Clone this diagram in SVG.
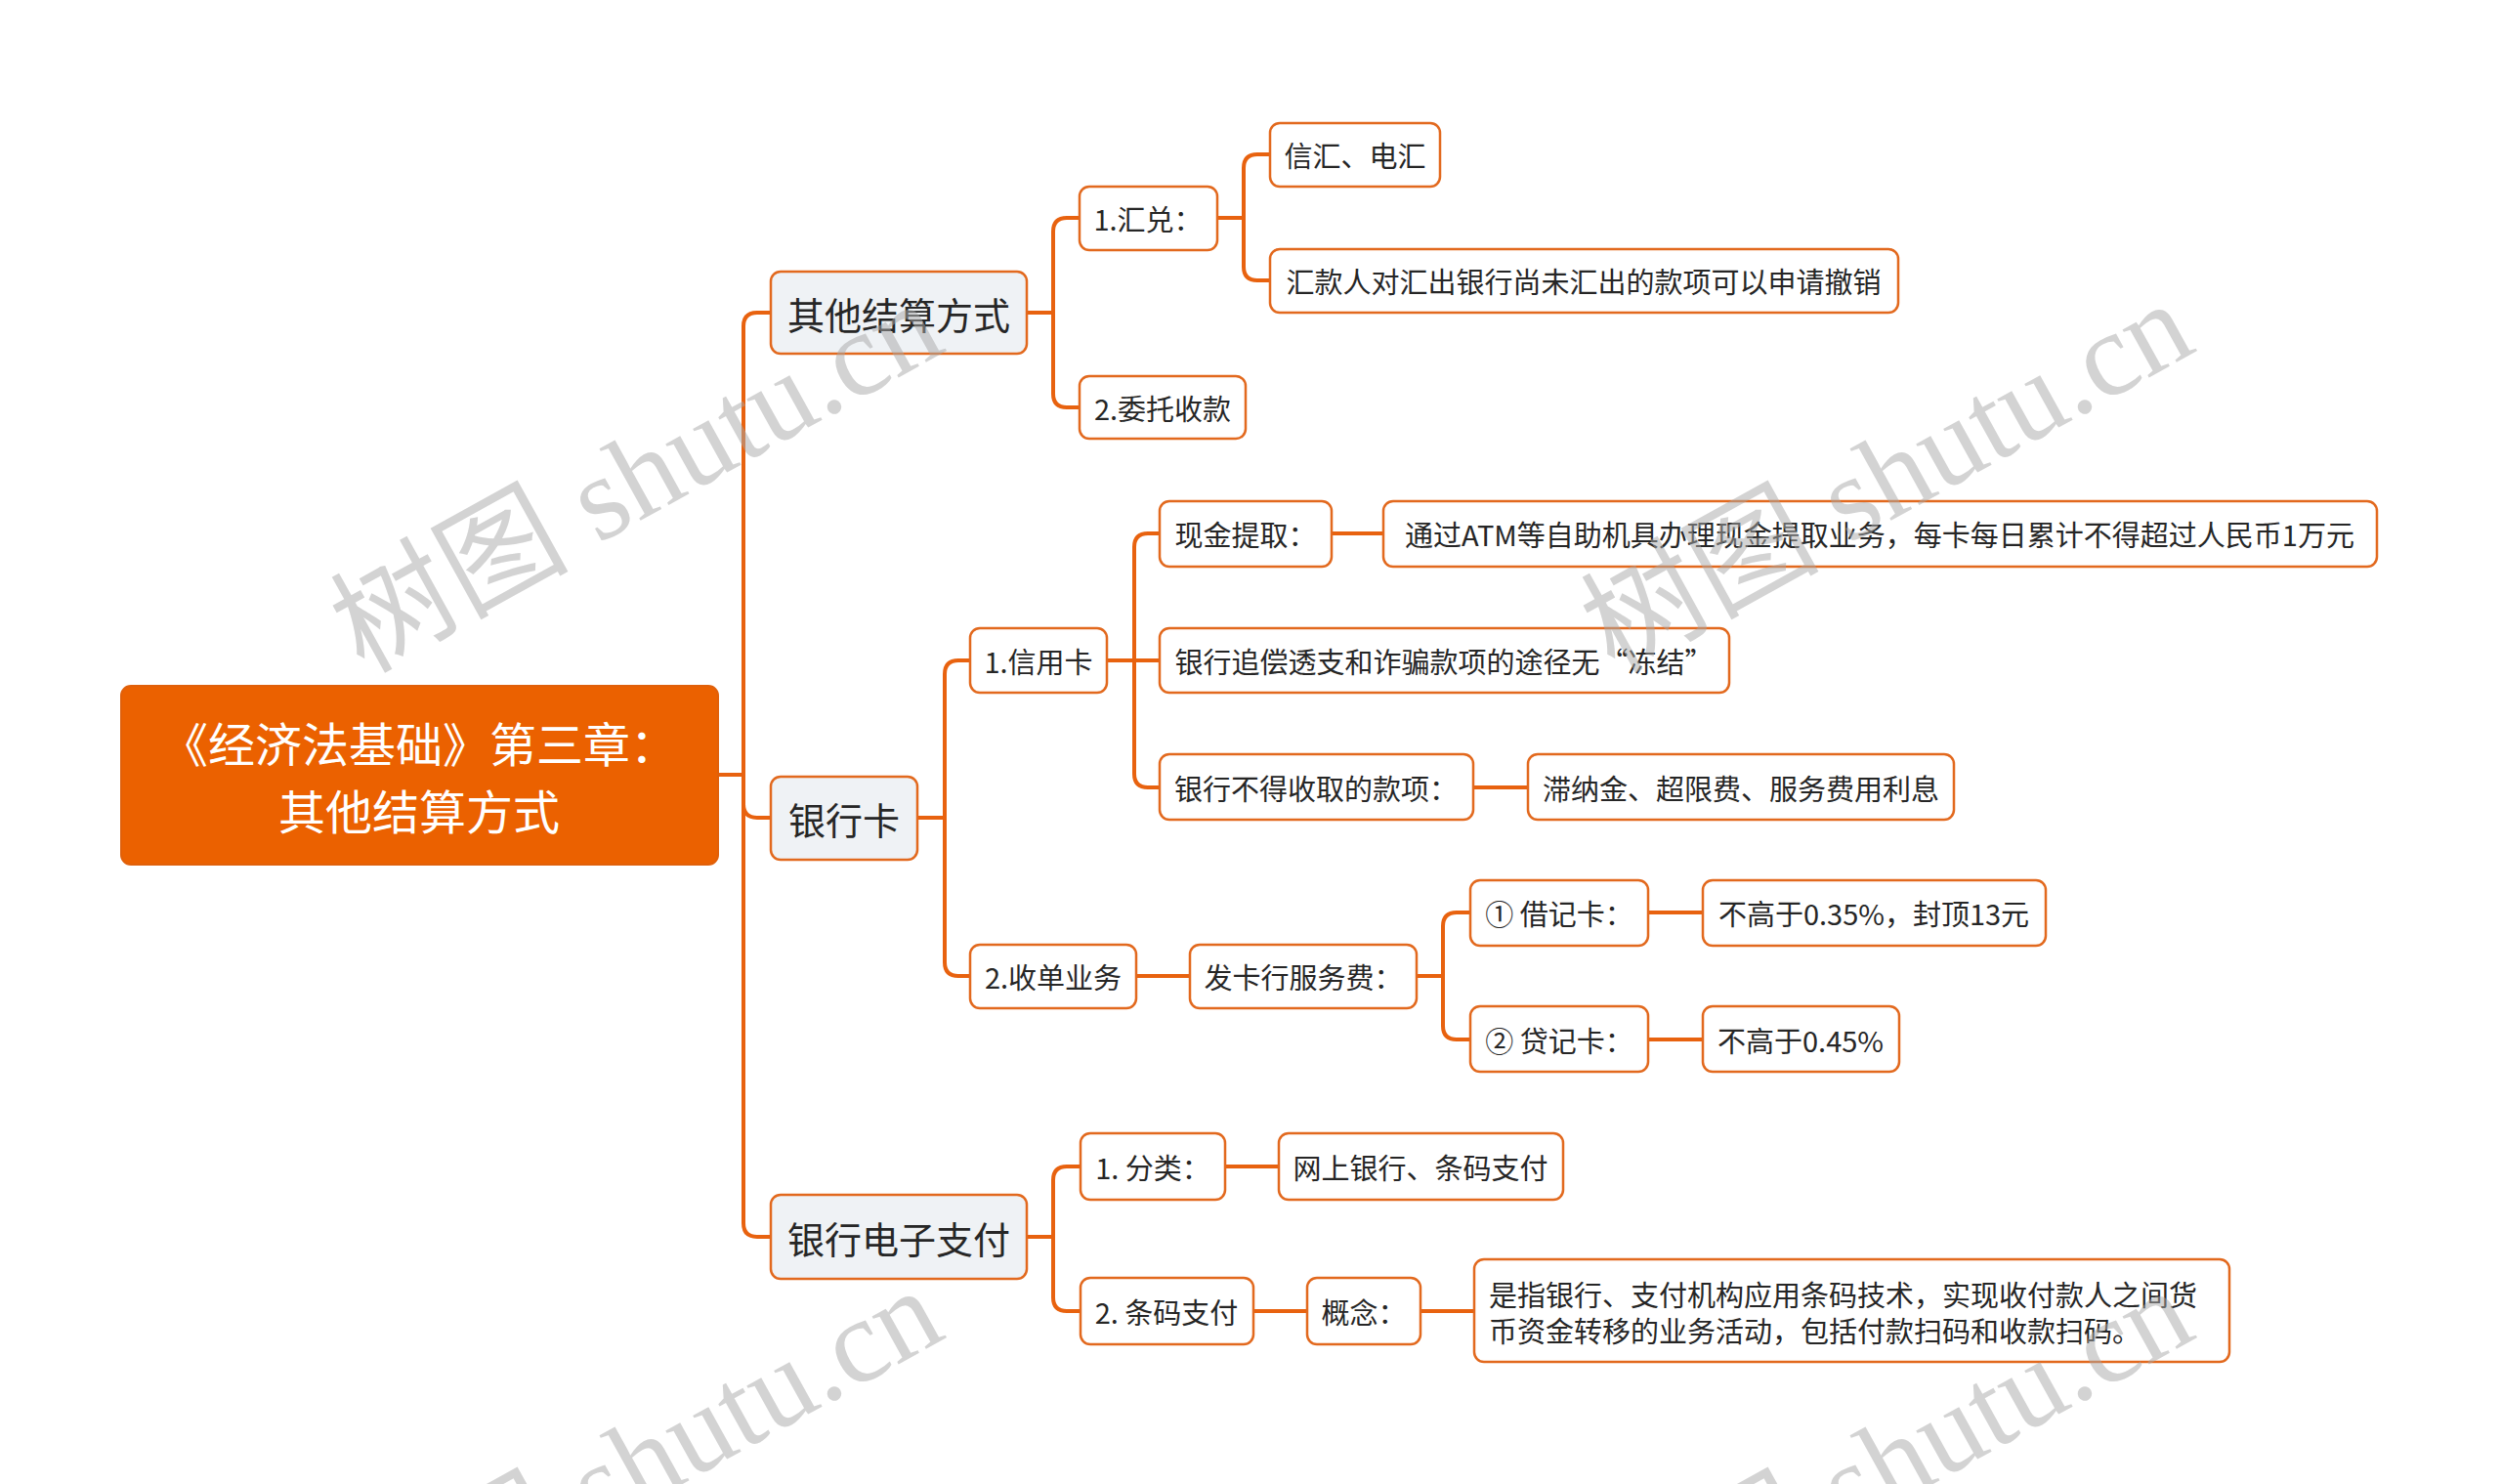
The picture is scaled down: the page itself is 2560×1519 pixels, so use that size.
<svg xmlns="http://www.w3.org/2000/svg" width="2560" height="1519" viewBox="0 0 2560 1519">
<style>
.n rect{fill:#ffffff;stroke:#E2691E;stroke-width:2.5}
.g rect{fill:#EFF2F5}
.n text{font-family:"Noto Sans CJK SC","Noto Sans",sans-serif;font-size:29px;fill:#262626;text-anchor:middle;dominant-baseline:central}
.g text{font-size:38px}
.root rect{fill:#EB6100;stroke:#E0600A;stroke-width:2}
.root text{font-family:"Noto Sans CJK SC","Noto Sans",sans-serif;font-size:48px;fill:#ffffff;text-anchor:middle;dominant-baseline:central}
#connectors path{fill:none;stroke:#E8620F;stroke-width:4;stroke-linecap:round;stroke-linejoin:round}
.wm{font-family:"Liberation Serif","Noto Sans CJK SC",serif;font-size:122px;fill:#a8a8a8;opacity:0.5}
</style>
<rect width="2560" height="1519" fill="#ffffff"/>
<g id="connectors">
<path d="M735 793 H761 M761 793 V334 Q761 320 775 320 H789 M761 793 V1252 Q761 1266 775 1266 H789 M761 793 V823 Q761 837 775 837 H789"/>
<path d="M1051 320 H1078 V237 Q1078 223 1092 223 H1105 M1078 320 V403 Q1078 417 1092 417 H1105"/>
<path d="M1246 223 H1273 V172 Q1273 158 1287 158 H1300 M1273 223 V273 Q1273 287 1287 287 H1300"/>
<path d="M939 837 H967 V690 Q967 676 981 676 H993 M967 837 V985 Q967 999 981 999 H993"/>
<path d="M1133 676 H1187 M1161 676 V560 Q1161 546 1175 546 H1187 M1161 676 V792 Q1161 806 1175 806 H1187"/>
<path d="M1363 546 H1416"/>
<path d="M1508 806 H1564"/>
<path d="M1163 999 H1218"/>
<path d="M1450 999 H1477 V948 Q1477 934 1491 934 H1505 M1477 999 V1050 Q1477 1064 1491 1064 H1505"/>
<path d="M1687 934 H1743"/>
<path d="M1687 1064 H1743"/>
<path d="M1051 1266 H1078 V1208 Q1078 1194 1092 1194 H1106 M1078 1266 V1328 Q1078 1342 1092 1342 H1106"/>
<path d="M1254 1194 H1309"/>
<path d="M1283 1342 H1338"/>
<path d="M1454 1342 H1509"/>
</g>
<g id="root" class="root">
<rect x="124" y="702" width="611" height="183" rx="10"/>
<text x="429" y="759">《经济法基础》第三章：</text>
<text x="429" y="828">其他结算方式</text>
</g>
<g id="n-qita" class="n g"><rect x="789" y="278" width="262" height="84" rx="10"/><text x="920" y="320">其他结算方式</text></g>
<g id="n-yhk" class="n g"><rect x="789" y="795" width="150" height="85" rx="10"/><text x="864" y="837">银行卡</text></g>
<g id="n-dzzf" class="n g"><rect x="789" y="1223" width="262" height="86" rx="10"/><text x="920" y="1266">银行电子支付</text></g>
<g id="n-hd" class="n"><rect x="1105" y="191" width="141" height="65" rx="10"/><text x="1175" y="223">1.汇兑：</text></g>
<g id="n-wt" class="n"><rect x="1105" y="385" width="170" height="64" rx="10"/><text x="1190" y="417">2.委托收款</text></g>
<g id="n-xh" class="n"><rect x="1300" y="126" width="174" height="65" rx="10"/><text x="1387" y="158">信汇、电汇</text></g>
<g id="n-hkr" class="n"><rect x="1300" y="255" width="643" height="65" rx="10"/><text x="1621" y="287">汇款人对汇出银行尚未汇出的款项可以申请撤销</text></g>
<g id="n-xyk" class="n"><rect x="993" y="643" width="140" height="66" rx="10"/><text x="1063" y="676">1.信用卡</text></g>
<g id="n-sd" class="n"><rect x="993" y="967" width="170" height="65" rx="10"/><text x="1078" y="999">2.收单业务</text></g>
<g id="n-xjtq" class="n"><rect x="1187" y="513" width="176" height="67" rx="10"/><text x="1275" y="546">现金提取：</text></g>
<g id="n-atm" class="n"><rect x="1416" y="513" width="1017" height="67" rx="10"/><text x="1924" y="546">通过ATM等自助机具办理现金提取业务，每卡每日累计不得超过人民币1万元</text></g>
<g id="n-zc" class="n"><rect x="1187" y="643" width="583" height="66" rx="10"/><text x="1478" y="676">银行追偿透支和诈骗款项的途径无“冻结”</text></g>
<g id="n-bdsq" class="n"><rect x="1187" y="772" width="321" height="67" rx="10"/><text x="1347" y="806">银行不得收取的款项：</text></g>
<g id="n-znj" class="n"><rect x="1564" y="772" width="436" height="67" rx="10"/><text x="1782" y="806">滞纳金、超限费、服务费用利息</text></g>
<g id="n-fkh" class="n"><rect x="1218" y="967" width="232" height="65" rx="10"/><text x="1334" y="999">发卡行服务费：</text></g>
<g id="n-jjk" class="n"><rect x="1505" y="901" width="182" height="67" rx="10"/><text x="1596" y="934">① 借记卡：</text></g>
<g id="n-jjkv" class="n"><rect x="1743" y="901" width="351" height="67" rx="10"/><text x="1918" y="934">不高于0.35%，封顶13元</text></g>
<g id="n-djk" class="n"><rect x="1505" y="1030" width="182" height="67" rx="10"/><text x="1596" y="1064">② 贷记卡：</text></g>
<g id="n-djkv" class="n"><rect x="1743" y="1030" width="201" height="67" rx="10"/><text x="1843" y="1064">不高于0.45%</text></g>
<g id="n-fl" class="n"><rect x="1106" y="1160" width="148" height="68" rx="10"/><text x="1180" y="1194">1. 分类：</text></g>
<g id="n-flv" class="n"><rect x="1309" y="1160" width="291" height="68" rx="10"/><text x="1454" y="1194">网上银行、条码支付</text></g>
<g id="n-tm" class="n"><rect x="1106" y="1308" width="177" height="68" rx="10"/><text x="1194" y="1342">2. 条码支付</text></g>
<g id="n-gn" class="n"><rect x="1338" y="1308" width="116" height="68" rx="10"/><text x="1396" y="1342">概念：</text></g>
<g id="n-gnv" class="n"><rect x="1509" y="1289" width="773" height="105" rx="10"/><text x="1524" y="1324" style="text-anchor:start">是指银行、支付机构应用条码技术，实现收付款人之间货</text><text x="1524" y="1361" style="text-anchor:start">币资金转移的业务活动，包括付款扫码和收款扫码。</text></g>
<g id="watermarks">
<text class="wm" transform="translate(372 690) rotate(-29)">树图 shutu.cn</text>
<text class="wm" transform="translate(1652 690) rotate(-29)">树图 shutu.cn</text>
<text class="wm" transform="translate(372 1700) rotate(-29)">树图 shutu.cn</text>
<text class="wm" transform="translate(1652 1700) rotate(-29)">树图 shutu.cn</text>
</g>
</svg>
